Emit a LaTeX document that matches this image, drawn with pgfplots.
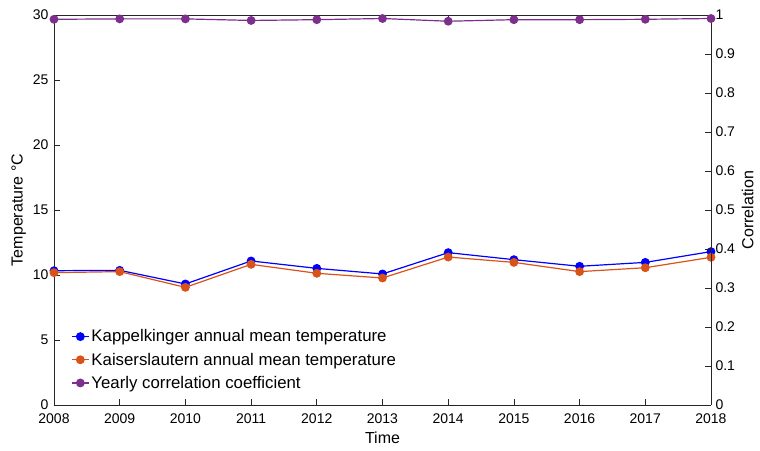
\documentclass[border=0pt]{standalone}
\usepackage{fontspec}
\setmainfont{Liberation Sans}
\usepackage{pgfplots}
\pgfplotsset{compat=1.18}
\definecolor{mblue}{RGB}{0,0,255}
\definecolor{morange}{RGB}{217,83,25}
\definecolor{mpurple}{RGB}{126,47,142}
\definecolor{axgray}{RGB}{38,38,38}
\begin{document}
\begin{tikzpicture}
\pgfplotsset{
  every axis/.append style={
    width=657pt, height=390pt, scale only axis,
    at={(0pt,0pt)}, anchor=south west,
    xmin=2008, xmax=2018,
    font=\fontsize{14}{16}\selectfont,
    /pgf/number format/assume math mode=true,
    axis line style={axgray, line width=0.7pt},
    tick style={axgray, line width=0.7pt, major tick length=6pt},
    tick align=inside,
    xticklabel style={/pgf/number format/1000 sep=, yshift=-5pt},
    every tick label/.append style={text=black},
  }
}
\begin{axis}[
  axis y line*=left,
  axis x line=box,
  ymin=0, ymax=30,
  ytick={0,5,...,30},
  xtick={2008,2009,...,2018},
  xtick pos=both,
  ytick pos=left,
  yticklabel style={xshift=-2pt},
  xlabel={Time},
  ylabel={Temperature °C},
  xlabel style={font=\fontsize{16}{18}\selectfont, yshift=-2pt},
  ylabel style={font=\fontsize{16}{18}\selectfont, yshift=0pt},
  legend style={draw=none, fill=none, at={(14pt,11pt)}, anchor=south west,
    font=\fontsize{16.8}{18}\selectfont, row sep=5.5pt,
    legend cell align=left},
]
\addplot[color=mblue, line width=1.2pt, mark=*, mark size=3.8pt] coordinates {
(2008,10.33) (2009,10.36) (2010,9.31) (2011,11.08) (2012,10.51) (2013,10.08)
(2014,11.72) (2015,11.18) (2016,10.67) (2017,10.97) (2018,11.80)};
\addlegendentry{Kappelkinger annual mean temperature}
\addplot[color=morange, line width=1.2pt, mark=*, mark size=3.8pt] coordinates {
(2008,10.18) (2009,10.26) (2010,9.05) (2011,10.82) (2012,10.13) (2013,9.77)
(2014,11.38) (2015,10.97) (2016,10.26) (2017,10.56) (2018,11.36)};
\addlegendentry{Kaiserslautern annual mean temperature}
\addlegendimage{color=mpurple, line width=1.2pt, mark=*, mark size=3.8pt}
\addlegendentry{Yearly correlation coefficient}
\end{axis}
\begin{axis}[
  axis y line*=right,
  axis x line=none,
  ymin=0, ymax=1,
  ytick={0,0.1,...,1},
  yticklabel style={/pgf/number format/fixed, /pgf/number format/precision=1, xshift=1pt},
  ylabel={Correlation},
  ylabel style={font=\fontsize{16}{18}\selectfont, yshift=0pt},
]
\addplot[color=mpurple, line width=1.2pt, mark=*, mark size=3.8pt] coordinates {
(2008,0.989) (2009,0.990) (2010,0.990) (2011,0.986) (2012,0.988) (2013,0.991)
(2014,0.984) (2015,0.988) (2016,0.988) (2017,0.989) (2018,0.991)};
\end{axis}
\pgfresetboundingbox
\path[use as bounding box] (-54pt,-45pt) rectangle (706pt,405pt);
\end{tikzpicture}
\end{document}
